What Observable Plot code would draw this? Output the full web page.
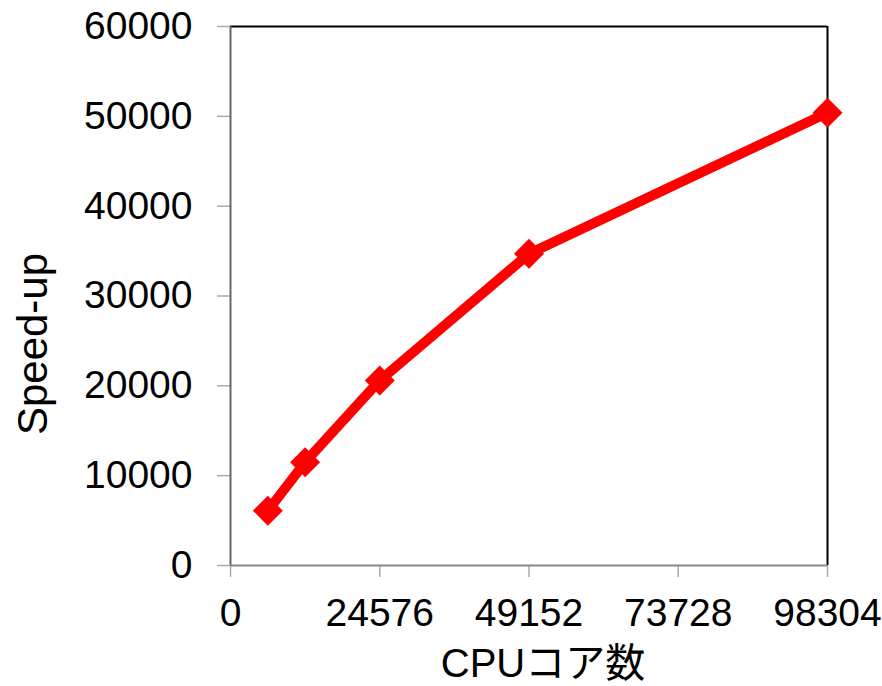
<!DOCTYPE html>
<html><head><meta charset="utf-8">
<script src="https://cdn.jsdelivr.net/npm/d3@7"></script>
<script src="https://cdn.jsdelivr.net/npm/@observablehq/plot@0.6"></script>
<style>body{margin:0;background:#fff} svg{display:block}</style>
</head><body><div id="chart"></div>
<script>
const cores = [6144, 12288, 24576, 49152, 98304];
const speedup = [6100, 11500, 20600, 34700, 50400];
const xTicks = [0, 24576, 49152, 73728, 98304];
const yTicks = [0, 10000, 20000, 30000, 40000, 50000, 60000];
const xLabel = "CPUコア数";
const yLabel = "Speed-up";
const xMax = 98304, yMax = 60000;

const data = cores.map((c, i) => ({cores: c, speedup: speedup[i]}));

const chart = Plot.plot({
  width: 882, height: 686,
  marginLeft: 230, marginRight: 55, marginTop: 26, marginBottom: 121,
  style: {fontFamily: "'Liberation Sans', 'Noto Sans CJK JP', sans-serif", background: "#fff", color: "#000"},
  x: {domain: [0, xMax]},
  y: {domain: [0, yMax]},
  marks: [
    Plot.axisX({ticks: xTicks, tickSize: 12, tickPadding: 21, fontSize: 39, label: null, stroke: "#aaa", strokeWidth: 1.5, fill: "#000", tickFormat: d => String(d)}),
    Plot.axisY({ticks: yTicks, tickSize: 13, tickPadding: 25, fontSize: 39, label: null, stroke: "#aaa", strokeWidth: 1.5, fill: "#000", tickFormat: d => String(d)}),
    Plot.ruleY([yMax], {stroke: "#000", strokeWidth: 2}),
    Plot.ruleX([xMax], {stroke: "#000", strokeWidth: 2}),
    Plot.ruleX([0], {stroke: "#666", strokeWidth: 2}),
    Plot.ruleY([0], {stroke: "#888", strokeWidth: 2}),
    Plot.line(data, {x: "cores", y: "speedup", stroke: "#ff0000", strokeWidth: 10, strokeLinejoin: "round"}),
    Plot.dot(data, {x: "cores", y: "speedup", symbol: "diamond2", r: 13.5, fill: "#ff0000", stroke: "none"}),
    Plot.text([yLabel], {frameAnchor: "left", textAnchor: "middle", lineAnchor: "middle", rotate: -90, dx: -197, dy: 48, fontSize: 42, fill: "#000"}),
    Plot.text([xLabel], {frameAnchor: "bottom", textAnchor: "middle", lineAnchor: "middle", dx: 14, dy: 99, fontSize: 40, fill: "#000"})
  ]
});
document.getElementById("chart").appendChild(chart);
</script>
</body></html>
